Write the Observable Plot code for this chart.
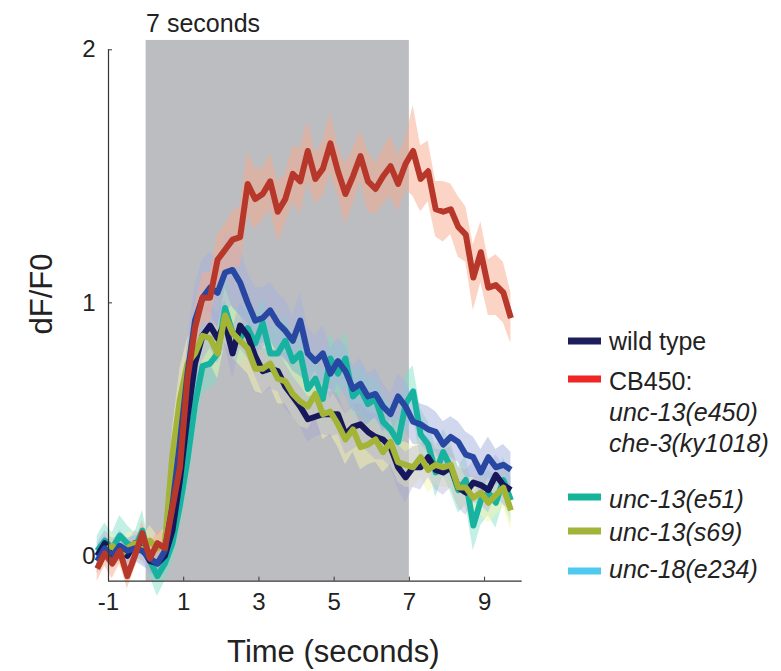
<!DOCTYPE html>
<html><head><meta charset="utf-8">
<script src="https://cdn.jsdelivr.net/npm/d3@7"></script>
<script src="https://cdn.jsdelivr.net/npm/@observablehq/plot@0.6"></script>
<style>
html,body{margin:0;padding:0;background:#fff;}
#chart{position:relative;width:781px;height:671px;}
</style>
</head><body><div id="chart"></div>
<script>
// ---- data ----
const time = [-1.3,-1.1,-0.9,-0.7,-0.5,-0.3,-0.1,0.1,0.3,0.5,0.7,0.9,1.1,1.3,1.5,1.7,1.9,2.1,2.3,2.5,2.7,2.9,3.1,3.3,3.5,3.7,3.9,4.1,4.3,4.5,4.7,4.9,5.1,5.3,5.5,5.7,5.9,6.1,6.3,6.5,6.7,6.9,7.1,7.3,7.5,7.7,7.9,8.1,8.3,8.5,8.7,8.9,9.1,9.3,9.5,9.7];

const wildType = [0.0,0.05,0.02,0.03,0.0,0.05,0.03,-0.02,-0.03,0.0,0.1,0.3,0.55,0.76,0.87,0.91,0.86,0.92,0.8,0.91,0.87,0.79,0.73,0.74,0.73,0.67,0.63,0.59,0.54,0.55,0.56,0.56,0.56,0.48,0.51,0.52,0.49,0.47,0.46,0.43,0.35,0.31,0.35,0.35,0.39,0.34,0.33,0.35,0.27,0.25,0.29,0.28,0.26,0.32,0.28,0.26];
const wildTypeSem = [0.05,0.05,0.05,0.05,0.05,0.05,0.05,0.05,0.05,0.05,0.06,0.08,0.09,0.1,0.1,0.09,0.1,0.09,0.1,0.09,0.09,0.08,0.09,0.08,0.08,0.09,0.08,0.08,0.09,0.08,0.08,0.09,0.08,0.08,0.09,0.08,0.08,0.09,0.08,0.08,0.09,0.1,0.08,0.09,0.08,0.08,0.09,0.08,0.08,0.09,0.08,0.08,0.09,0.08,0.08,0.08];

const cb450 = [-0.05,0.01,-0.03,0.02,-0.08,0.0,0.09,-0.01,0.05,0.03,0.19,0.35,0.7,0.9,1.02,1.02,1.17,1.21,1.25,1.26,1.47,1.41,1.43,1.48,1.36,1.41,1.51,1.48,1.6,1.49,1.53,1.63,1.52,1.43,1.5,1.58,1.48,1.45,1.5,1.54,1.47,1.55,1.6,1.49,1.52,1.37,1.36,1.37,1.3,1.27,1.1,1.2,1.06,1.07,1.04,0.94];
const cb450Sem = [0.05,0.05,0.06,0.05,0.05,0.05,0.05,0.05,0.05,0.06,0.07,0.08,0.08,0.09,0.1,0.1,0.1,0.1,0.11,0.12,0.13,0.12,0.1,0.11,0.12,0.1,0.11,0.13,0.12,0.1,0.11,0.12,0.1,0.12,0.11,0.1,0.12,0.1,0.11,0.12,0.11,0.1,0.18,0.13,0.12,0.11,0.12,0.1,0.12,0.11,0.13,0.12,0.11,0.12,0.12,0.1];

const unc13e51 = [0.02,0.06,0.03,0.08,0.05,0.03,0.1,-0.02,-0.08,-0.03,0.05,0.2,0.38,0.6,0.75,0.76,0.8,0.98,0.88,0.86,0.9,0.84,0.92,0.8,0.8,0.85,0.77,0.8,0.66,0.7,0.62,0.78,0.72,0.78,0.63,0.66,0.6,0.62,0.53,0.5,0.45,0.6,0.65,0.48,0.44,0.33,0.41,0.35,0.26,0.3,0.12,0.22,0.25,0.21,0.3,0.22];
const unc13e51Sem = [0.06,0.07,0.06,0.08,0.07,0.06,0.08,0.06,0.08,0.07,0.08,0.1,0.12,0.12,0.11,0.1,0.11,0.12,0.1,0.11,0.1,0.11,0.1,0.1,0.11,0.1,0.1,0.11,0.1,0.1,0.11,0.1,0.1,0.11,0.1,0.1,0.1,0.09,0.1,0.1,0.09,0.12,0.1,0.1,0.09,0.1,0.09,0.1,0.09,0.1,0.1,0.1,0.09,0.1,0.09,0.09];

const unc13s69 = [-0.02,0.02,0.04,0.0,0.03,0.05,0.02,0.06,0.03,0.05,0.4,0.62,0.76,0.8,0.87,0.86,0.8,0.95,0.88,0.85,0.82,0.74,0.74,0.76,0.7,0.69,0.64,0.61,0.59,0.64,0.56,0.57,0.52,0.46,0.5,0.43,0.44,0.46,0.41,0.45,0.37,0.36,0.35,0.39,0.34,0.36,0.35,0.36,0.27,0.27,0.23,0.25,0.21,0.24,0.27,0.18];
const unc13s69Sem = [0.05,0.06,0.05,0.05,0.06,0.05,0.05,0.06,0.05,0.06,0.1,0.12,0.1,0.1,0.11,0.1,0.1,0.11,0.1,0.1,0.1,0.09,0.1,0.09,0.1,0.09,0.09,0.1,0.09,0.09,0.1,0.09,0.09,0.1,0.09,0.09,0.08,0.09,0.08,0.09,0.08,0.09,0.08,0.08,0.09,0.08,0.08,0.09,0.08,0.08,0.08,0.09,0.08,0.08,0.08,0.08];

const unc18e234 = [-0.02,0.03,0.0,0.04,0.02,0.03,0.02,-0.01,-0.03,0.02,0.2,0.45,0.72,0.93,1.02,1.06,1.04,1.12,1.13,1.08,1.0,0.93,0.94,0.97,0.92,0.89,0.85,0.93,0.8,0.77,0.8,0.72,0.77,0.73,0.66,0.68,0.63,0.64,0.59,0.56,0.63,0.59,0.53,0.52,0.5,0.49,0.44,0.47,0.45,0.4,0.39,0.33,0.39,0.35,0.36,0.34];
const unc18e234Sem = [0.05,0.05,0.05,0.06,0.05,0.05,0.06,0.05,0.05,0.06,0.08,0.1,0.12,0.14,0.15,0.14,0.13,0.15,0.14,0.13,0.12,0.13,0.12,0.11,0.12,0.12,0.1,0.11,0.1,0.1,0.11,0.1,0.09,0.1,0.09,0.1,0.09,0.1,0.09,0.08,0.09,0.1,0.09,0.08,0.09,0.08,0.09,0.08,0.08,0.09,0.08,0.09,0.08,0.07,0.08,0.07];

const xTicks = [-1, 1, 3, 5, 7, 9];
const yTicks = [0, 1, 2];
const stimulusWindow = [0, 7];
const stimulusLabel = "7 seconds";
const xLabel = "Time (seconds)";
const yLabel = "dF/F0";

// legend entries: [label line, italic]
const legendLines = [
  [["wild type", false]],
  [["CB450:", false], ["unc-13(e450)", true], ["che-3(ky1018)", true]],
  [["unc-13(e51)", true]],
  [["unc-13(s69)", true]],
  [["unc-18(e234)", true]]
];

// ---- styling ----
const FONT = "'Liberation Sans', Arial, Helvetica, sans-serif";
const seriesDefs = [
  {values: unc13e51, sem: unc13e51Sem, line: "#17b3a0", band: "rgb(120,222,196)", op: 0.45},
  {values: unc13s69, sem: unc13s69Sem, line: "#a3b436", band: "rgb(245,245,175)", op: 0.5},
  {values: wildType, sem: wildTypeSem, line: "#17175c", band: "rgb(160,160,215)", op: 0.35},
  {values: unc18e234, sem: unc18e234Sem, line: "#2747a2", band: "rgb(163,178,222)", op: 0.5},
  {values: cb450, sem: cb450Sem, line: "#b7382a", band: "rgb(247,170,142)", op: 0.5}
];
const lineOrder = [0, 2, 1, 3, 4];
const legendColors = ["#1e1e5c", "#ee2624", "#14b39a", "#a2b43a", "#4ec9f0"];

const rowsOf = s => time.map((t, i) => ({t, v: s.values[i], lo: s.values[i] - s.sem[i], hi: s.values[i] + s.sem[i]}));

const marks = [
  Plot.rect([stimulusWindow], {x1: d => d[0], x2: d => d[1], y1: () => -0.1, y2: () => 2.037, fill: "#bcbdc1"}),
  ...seriesDefs.map(s => Plot.areaY(rowsOf(s), {x: "t", y1: "lo", y2: "hi", fill: s.band, fillOpacity: s.op})),
  ...lineOrder.map(k => Plot.line(rowsOf(seriesDefs[k]), {x: "t", y: "v", stroke: seriesDefs[k].line, strokeWidth: 6, strokeLinejoin: "round", strokeLinecap: "butt"})),
  Plot.ruleY([-0.1], {stroke: "#333", strokeWidth: 1.2}),
  Plot.ruleX([-1], {stroke: "#333", strokeWidth: 1.2}),
  Plot.axisX({ticks: xTicks, tickSize: -4, tickPadding: 16, fontSize: 24, tickFormat: d => String(d), label: null, stroke: "#333", color: "#222"}),
  Plot.axisY({ticks: yTicks, tickSize: -4, tickPadding: 17, fontSize: 24, tickFormat: d => String(d), label: null, stroke: "#333", color: "#222"}),
  Plot.text([stimulusLabel], {x: () => stimulusWindow[0], y: () => 2.037, text: d => d, textAnchor: "start", lineAnchor: "middle", dy: -16, fontSize: 25, fill: "#222"}),
  Plot.text([xLabel], {frameAnchor: "bottom", text: d => d, dx: 18, dy: 71, lineAnchor: "middle", fontSize: 31, fill: "#222"}),
  Plot.text([yLabel], {frameAnchor: "left", text: d => d, dx: -66, dy: 19, rotate: -90, lineAnchor: "middle", fontSize: 31, fill: "#222"})
];

const svg = Plot.plot({
  width: 781, height: 671,
  marginLeft: 108, marginRight: 259.3, marginTop: 49.3, marginBottom: 90.3,
  x: {domain: [-1, 10]},
  y: {domain: [-0.1, 2]},
  style: {fontFamily: FONT, background: "#fff", overflow: "visible"},
  marks
});

// legend drawn into the same svg
const g = d3.select(svg).append("g")
  .attr("font-family", FONT).attr("font-size", 25).attr("fill", "#222")
  .attr("text-anchor", "start").style("text-anchor", "start");
const swatchY = [341, 379, 497, 531, 571];
const baselines = [[350], [390, 421, 452], [508], [541], [578]];
legendLines.forEach((entry, i) => {
  g.append("rect").attr("x", 568).attr("y", swatchY[i] - 3.5).attr("width", 33).attr("height", 7).attr("fill", legendColors[i]);
  entry.forEach(([txt, it], j) => {
    g.append("text").attr("x", 609).attr("y", baselines[i][j])
      .attr("text-anchor", "start").style("text-anchor", "start")
      .attr("font-style", it ? "italic" : "normal").text(txt);
  });
});

document.getElementById("chart").appendChild(svg);
</script>
</body></html>
